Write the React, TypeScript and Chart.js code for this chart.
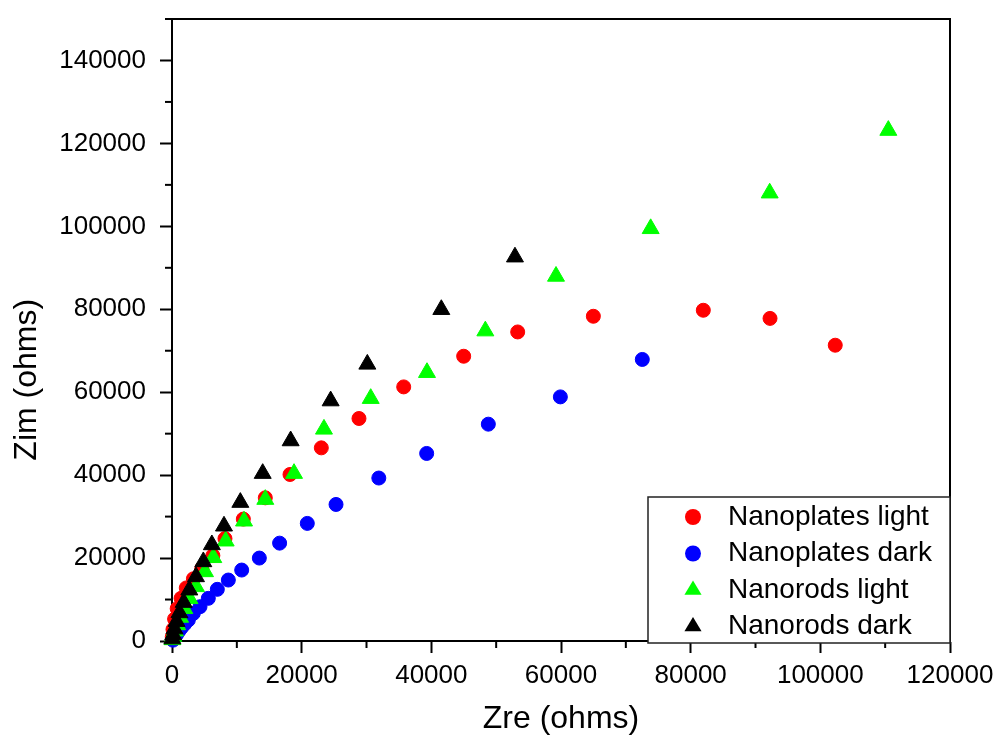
import React, { useEffect, useRef } from 'react';
import { Chart, registerables } from 'chart.js';

Chart.register(...registerables);

const FONT = '"Liberation Sans", Arial, Helvetica, sans-serif';

// ---- data ----
const seriesNames = ['Nanoplates light', 'Nanoplates dark', 'Nanorods light', 'Nanorods dark'];
const seriesColors = ['#ff0000', '#0000ff', '#00ff00', '#000000'];
const seriesMarkers = ['circle', 'circle', 'triangle', 'triangle'];

const platesLightZre = [40, 150, 400, 800, 1400, 2200, 3300, 4600, 6300, 8170, 11000, 14390, 18200, 23030, 28840, 35740, 44990, 53320, 64990, 81950, 92240, 102300];
const platesLightZim = [1000, 2800, 5300, 7800, 10300, 12800, 15000, 17500, 20600, 24700, 29400, 34530, 40160, 46580, 53660, 61280, 68670, 74530, 78310, 79760, 77800, 71330];

const platesDarkZre = [150, 300, 500, 750, 1050, 1450, 1950, 2520, 3290, 4320, 5600, 6990, 8690, 10750, 13470, 16600, 20870, 25300, 31900, 39280, 48790, 59900, 72540];
const platesDarkZim = [200, 600, 1100, 1700, 2400, 3200, 4100, 5060, 6670, 8270, 10290, 12460, 14700, 17110, 20000, 23600, 28360, 32930, 39300, 45230, 52290, 58870, 67900];

const rodsLightZre = [60, 200, 450, 800, 1250, 1900, 2700, 3700, 5090, 6370, 8280, 11110, 14390, 18820, 23440, 30650, 39330, 48330, 59230, 73830, 92190, 110490];
const rodsLightZim = [300, 1100, 2400, 3900, 5700, 7800, 10200, 13090, 16700, 20100, 24100, 28920, 34140, 40400, 51080, 58480, 64740, 74770, 87950, 99440, 108030, 123130];

const rodsDarkZre = [60, 180, 380, 700, 1150, 1800, 2670, 3700, 4830, 6150, 8020, 10540, 13990, 18300, 24470, 30130, 41540, 52900];
const rodsDarkZim = [500, 1500, 2900, 4700, 6800, 9300, 12290, 15490, 19110, 23200, 27710, 33420, 40400, 48270, 57900, 66750, 79930, 92600];

const xRange = [0, 120000];
const yRange = [0, 150000];
const majorStep = 20000;
const minorStep = 10000;
const xTitle = 'Zre (ohms)';
const yTitle = 'Zim (ohms)';

const seriesZre = [platesLightZre, platesDarkZre, rodsLightZre, rodsDarkZre];
const seriesZim = [platesLightZim, platesDarkZim, rodsLightZim, rodsDarkZim];
const drawOrder = [4, 3, 2, 1];

// ---- plugins ----
const extrasPlugin = {
  id: 'extras',
  afterDatasetsDraw(chart: any) {
    const { ctx, chartArea, scales } = chart;
    ctx.save();
    ctx.strokeStyle = '#000';
    ctx.lineWidth = 2;
    scales.x.ticks.forEach((t: any) => {
      if (t.value % majorStep !== 0) {
        const px = scales.x.getPixelForValue(t.value);
        ctx.beginPath();
        ctx.moveTo(px, chartArea.bottom);
        ctx.lineTo(px, chartArea.bottom + 7);
        ctx.stroke();
      }
    });
    scales.y.ticks.forEach((t: any) => {
      if (t.value % majorStep !== 0) {
        const py = scales.y.getPixelForValue(t.value);
        ctx.beginPath();
        ctx.moveTo(chartArea.left, py);
        ctx.lineTo(chartArea.left - 7, py);
        ctx.stroke();
      }
    });
    ctx.beginPath();
    ctx.moveTo(chartArea.left - 1, chartArea.top);
    ctx.lineTo(chartArea.right, chartArea.top);
    ctx.lineTo(chartArea.right, chartArea.bottom);
    ctx.stroke();
    ctx.fillStyle = '#000';
    ctx.font = `32px ${FONT}`;
    ctx.textAlign = 'center';
    ctx.textBaseline = 'middle';
    ctx.translate(27, chartArea.top + (chartArea.bottom - chartArea.top) * 0.58);
    ctx.rotate(-Math.PI / 2);
    ctx.fillText(yTitle, 0, 0);
    ctx.restore();
  },
  afterDraw(chart: any) {
    const { ctx, chartArea } = chart;
    const w = 302;
    const h = 146;
    const right = chartArea.right;
    const bottom = chartArea.bottom + 2;
    const left = right - w;
    const top = bottom - h;
    ctx.save();
    ctx.fillStyle = '#fff';
    ctx.fillRect(left, top, w, h);
    ctx.strokeStyle = '#222';
    ctx.lineWidth = 1.5;
    ctx.strokeRect(left, top, w, h);
    chart.data.datasets.forEach((ds: any, i: number) => {
      const cy = top + 20 + i * 36.5;
      const cx = left + 45;
      ctx.fillStyle = ds.backgroundColor;
      if (ds.pointStyle === 'triangle') {
        const r = 9.5;
        ctx.beginPath();
        ctx.moveTo(cx, cy - r);
        ctx.lineTo(cx + r * 0.9, cy + r / 2);
        ctx.lineTo(cx - r * 0.9, cy + r / 2);
        ctx.closePath();
        ctx.fill();
      } else {
        ctx.beginPath();
        ctx.arc(cx, cy, 8, 0, Math.PI * 2);
        ctx.fill();
      }
      ctx.fillStyle = '#000';
      ctx.font = `28px ${FONT}`;
      ctx.textAlign = 'left';
      ctx.textBaseline = 'middle';
      ctx.fillText(ds.label, left + 80, cy);
    });
    ctx.restore();
  },
};

export default function App() {
  const canvasRef = useRef<HTMLCanvasElement | null>(null);

  useEffect(() => {
    if (!canvasRef.current) return;
    Chart.defaults.font.family = FONT;
    const datasets = seriesNames.map((name, i) => ({
      label: name,
      data: seriesZre[i].map((x, j) => ({ x, y: seriesZim[i][j] })),
      backgroundColor: seriesColors[i],
      borderColor: seriesColors[i],
      borderWidth: 1,
      pointStyle: seriesMarkers[i],
      pointRadius: seriesMarkers[i] === 'triangle' ? 9.8 : 7,
      pointHoverRadius: seriesMarkers[i] === 'triangle' ? 9.8 : 7,
      showLine: false,
      clip: false as any,
      order: drawOrder[i],
    }));

    const tickColor = (c: any) =>
      c.tick && c.tick.value % majorStep === 0 ? '#000' : 'rgba(0,0,0,0)';

    const chart = new Chart(canvasRef.current, {
      type: 'scatter',
      data: { datasets },
      plugins: [extrasPlugin],
      options: {
        responsive: false,
        animation: false,
        devicePixelRatio: 1,
        layout: { padding: { top: 19, right: 48, left: 0, bottom: 0 } },
        plugins: {
          legend: { display: false },
          tooltip: { enabled: false },
          title: { display: false },
        },
        scales: {
          x: {
            type: 'linear',
            position: 'bottom',
            min: xRange[0],
            max: xRange[1],
            ticks: {
              stepSize: minorStep,
              autoSkip: false,
              maxRotation: 0,
              padding: 7,
              color: '#000',
              font: { size: 26, family: FONT },
              callback: (v: any) => (Number(v) % majorStep === 0 ? String(v) : ''),
            },
            grid: {
              display: true,
              drawOnChartArea: false,
              drawTicks: true,
              tickLength: 12,
              tickWidth: 2,
              tickColor,
            },
            border: { display: true, color: '#000', width: 2 },
            title: {
              display: true,
              text: xTitle,
              color: '#000',
              font: { size: 32, family: FONT },
              padding: { top: 0, bottom: 4 },
            },
            afterFit: (s: any) => {
              s.height = 101;
              s.paddingLeft = 0;
              s.paddingRight = 0;
              s.paddingTop = 0;
              s.paddingBottom = 0;
            },
          },
          y: {
            type: 'linear',
            position: 'left',
            min: yRange[0],
            max: yRange[1],
            ticks: {
              stepSize: minorStep,
              autoSkip: false,
              padding: 14,
              color: '#000',
              font: { size: 26, family: FONT },
              callback: (v: any) => (Number(v) % majorStep === 0 ? String(v) : ''),
            },
            grid: {
              display: true,
              drawOnChartArea: false,
              drawTicks: true,
              tickLength: 12,
              tickWidth: 2,
              tickColor,
            },
            border: { display: true, color: '#000', width: 2 },
            title: { display: false },
            afterFit: (s: any) => {
              s.width = 172;
              s.paddingLeft = 0;
              s.paddingRight = 0;
              s.paddingTop = 0;
              s.paddingBottom = 0;
            },
          },
        },
      } as any,
    });
    return () => chart.destroy();
  }, []);

  return (
    <div style={{ position: 'absolute', left: 0, top: 0, width: 998, height: 742, background: '#fff' }}>
      <canvas ref={canvasRef} width={998} height={742} style={{ display: 'block' }} />
    </div>
  );
}
